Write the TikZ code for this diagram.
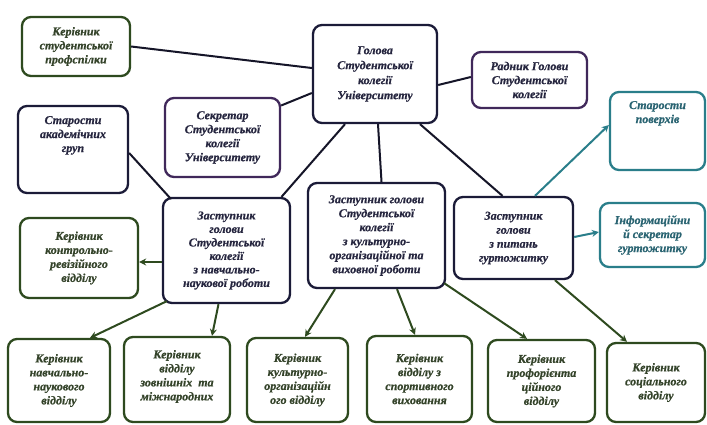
\documentclass[tikz,border=0pt]{standalone}
\usepackage{fontspec}
\setmainfont{Liberation Serif}[BoldItalicFont={Liberation Serif Bold Italic}, BoldItalicFeatures={FakeBold=0.6}]
\usetikzlibrary{arrows.meta,calc}
\definecolor{gbord}{HTML}{2E4A1F}
\definecolor{gtext}{HTML}{34432A}
\definecolor{nbord}{HTML}{1B1B38}
\definecolor{ntext}{HTML}{26263F}
\definecolor{pbord}{HTML}{40285A}
\definecolor{tbord}{HTML}{2A7E8A}
\definecolor{ttext}{HTML}{2A6472}
\definecolor{conn}{HTML}{151528}
\begin{document}
\begin{tikzpicture}[x=1pt,y=-1pt,
  box/.style={draw, rounded corners=9pt, line width=2.3pt, fill=white, align=center,
    inner sep=0pt, font=\bfseries\itshape\fontsize{12}{14}\selectfont},
  sz/.style 2 args={minimum width=#1pt, minimum height=#2pt},
  gbox/.style={box, draw=gbord, text=gtext},
  nbox/.style={box, draw=nbord, text=ntext},
  pbox/.style={box, draw=pbord, text=ntext},
  tbox/.style={box, draw=tbord, text=ttext},
  txt/.style={align=center, inner sep=0pt, font=\bfseries\itshape\fontsize{12}{14}\selectfont},
  link/.style={draw=conn, line width=2pt},
  garrow/.style={draw=gbord, line width=2pt, -{Stealth[length=7pt,width=7pt]}},
  tarrow/.style={draw=tbord, line width=2pt, -{Stealth[length=7pt,width=7pt]}}
]
\useasboundingbox[fill=white] (0,0) rectangle (707,424);

% top row
\node[gbox, sz={108}{59}] (prof) at (76,46.5) {Керівник\\студентської\\профспілки};
\node[nbox, sz={124}{98}, font=\bfseries\itshape\fontsize{12}{15}\selectfont] (golova) at (375,74) {Голова\\Студентської\\колегії\\Університету};
\node[pbox, sz={115}{79}] (sekr) at (222.5,137.5) {Секретар\\Студентської\\колегії\\Університету};
\node[nbox, sz={110}{87}] (starak) at (73,149.5) {};
\node[txt, text=ntext, anchor=north] (starakt) at ([yshift=-11]starak.north) {Старости\\академічних\\груп};
\node[pbox, sz={115}{56}] (radnyk) at (529.5,80) {Радник Голови\\Студентської\\колегії};
\node[tbox, sz={95}{78}] (starpov) at (657.5,131) {};
\node[txt, text=ttext, anchor=north] (starpovt) at ([yshift=-10]starpov.north) {Старости\\поверхів};
\node[tbox, sz={105}{64}] (inform) at (652.5,235) {Інформаційни\\й секретар\\гуртожитку};

% middle row
\node[nbox, sz={119}{82}] (gurt) at (513.5,238) {Заступник\\голови\\з питань\\гуртожитку};
\node[nbox, sz={137}{105}] (kult) at (376.5,235.5) {Заступник голови\\Студентської\\колегії\\з культурно-\\організаційної та\\виховної роботи};
\node[nbox, sz={127}{105}, font=\bfseries\itshape\fontsize{12}{13.5}\selectfont] (navch) at (226.5,250.5) {Заступник\\голови\\Студентської\\колегії\\з навчально-\\наукової роботи};
\node[gbox, sz={118}{80}] (kontr) at (79,258) {Керівник\\контрольно-\\ревізійного\\відділу};

% bottom row
\node[gbox, sz={102}{83}] (b1) at (59,380.5) {Керівник\\навчально-\\наукового\\відділу};
\node[gbox, sz={106}{85}] (b2) at (177,379.5) {};
\node[txt, text=gtext, anchor=north] (b2t) at ([yshift=-14]b2.north) {Керівник\\відділу\\зовнішніх\ \ та\\міжнародних};
\node[gbox, sz={101}{84}] (b3) at (297.5,380) {Керівник\\культурно-\\організаційн\\ого відділу};
\node[gbox, sz={105}{86}] (b4) at (419.5,379) {Керівник\\відділу з\\спортивного\\виховання};
\node[gbox, sz={107}{82}] (b5) at (541.5,381) {Керівник\\профорієнта\\ційного\\відділу};
\node[gbox, sz={98}{79}] (b6) at (656,382.5) {Керівник\\соціального\\відділу};

% connectors
\draw[link] (prof.east) -- ([yshift=6]golova.west);
\draw[link] ([yshift=32]sekr.east) -- ([yshift=-19]golova.west);
\draw[link] ([yshift=-11]golova.east) -- ([yshift=3]radnyk.west);
\draw[link] ([xshift=-30]golova.south) -- ([xshift=55]navch.north);
\draw[link] ([xshift=3]golova.south) -- ([xshift=5]kult.north);
\draw[link] ([xshift=45]golova.south) -- ([xshift=-11]gurt.north);
\draw[link] ([yshift=-3.5]starak.east) -- ([xshift=9,yshift=-2]navch.north west);

\draw[garrow] ([yshift=-11.5]navch.west) -- ([yshift=-4]kontr.east);
\draw[garrow] ([xshift=5,yshift=3]navch.south west) -- ([xshift=31]b1.north);
\draw[garrow] ([xshift=-8]navch.south) -- ([xshift=35]b2.north);
\draw[garrow] ([xshift=-41.5]kult.south) -- ([xshift=7.5]b3.north);
\draw[garrow] ([xshift=20.5]kult.south) -- ([xshift=-4.5]b4.north);
\draw[garrow] ([xshift=-2,yshift=6]kult.south east) -- ([xshift=-14.5]b5.north);
\draw[garrow] ([xshift=41.5]gurt.south) -- ([xshift=-29]b6.north);

\draw[tarrow] ([xshift=21.5]gurt.north) -- ([yshift=6]starpov.west);
\draw[tarrow] ([yshift=1]gurt.east) -- ([yshift=3]inform.west);
\end{tikzpicture}
\end{document}
